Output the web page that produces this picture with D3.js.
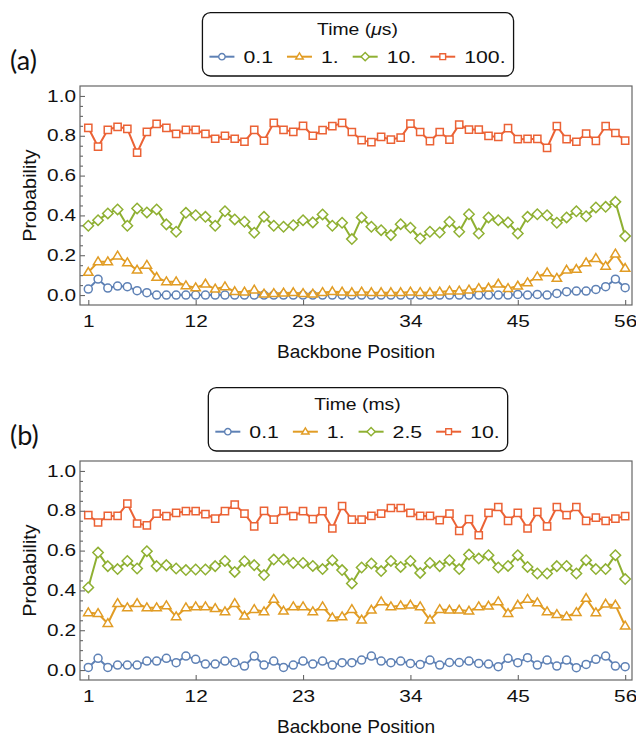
<!DOCTYPE html>
<html>
<head>
<meta charset="utf-8">
<script src="https://cdn.jsdelivr.net/npm/d3@7"></script>
<style>
  body { margin: 0; background: #fff; }
  svg { display: block; }
</style>
</head>
<body>
<svg id="chart" width="636" height="736"></svg>
<script>
// backbone positions 1..56
const positions = [1,2,3,4,5,6,7,8,9,10,11,12,13,14,15,16,17,18,19,20,21,22,23,24,25,26,27,28,
  29,30,31,32,33,34,35,36,37,38,39,40,41,42,43,44,45,46,47,48,49,50,51,52,53,54,55,56];
const xTicks = [1, 12, 23, 34, 45, 56];
const yMajor = [0, 0.2, 0.4, 0.6, 0.8, 1.0];
const yMinor = [0.05,0.1,0.15,0.25,0.3,0.35,0.45,0.5,0.55,0.65,0.7,0.75,0.85,0.9,0.95];

// panel (a), time in microseconds
const aLabels = ["0.1", "1.", "10.", "100."];
const aBlue = [0.03,0.08,0.035,0.045,0.042,0.022,0.012,0.0,
  0.0,0.0,0.0,0.0,0.0,0.0,0.0,0.0,0.0,0.0,
  0.0,0.0,0.0,0.0,0.0,0.0,0.0,0.0,0.0,0.0,
  0.0,0.0,0.0,0.0,0.0,0.0,0.0,0.0,0.0,0.0,
  0.0,0.0,0.0,0.0,0.0,0.0,0.003,0.0,0.003,0.0,
  0.008,0.017,0.02,0.02,0.028,0.042,0.08,0.037];
const aOrange = [0.114,0.167,0.167,0.196,0.162,0.125,0.15,0.089,0.067,0.067,0.047,0.037,0.055,0.03,0.042,
  0.017,0.015,0.025,0.005,0.008,0.01,0.012,0.008,0.005,
  0.013,0.017,0.015,0.012,0.015,0.012,0.012,0.012,0.012,0.015,0.013,0.012,0.015,0.02,0.02,0.025,
  0.033,0.035,0.055,0.033,0.045,0.062,0.092,0.112,0.084,0.125,0.129,0.162,0.184,0.145,0.206,0.134];
const aGreen = [0.348,0.376,0.41,0.43,0.348,0.435,0.415,0.43,0.355,0.318,0.413,0.401,0.393,0.348,0.421,
  0.38,0.368,0.313,0.393,0.348,0.343,0.351,0.376,0.365,
  0.405,0.348,0.363,0.281,0.39,0.343,0.326,0.301,0.356,0.338,0.284,0.318,0.314,0.368,0.318,0.406,
  0.309,0.39,0.376,0.365,0.309,0.393,0.406,0.401,0.363,0.39,0.421,0.396,0.44,0.443,0.468,0.296];
const aRed = [0.84,0.745,0.83,0.845,0.835,0.715,0.82,0.86,0.84,0.81,0.83,0.83,0.81,0.785,0.80,
  0.785,0.77,0.83,0.775,0.865,0.83,0.82,0.85,0.80,
  0.828,0.848,0.865,0.819,0.778,0.768,0.794,0.781,0.791,0.861,0.819,0.773,0.819,0.781,0.856,0.831,
  0.831,0.799,0.794,0.838,0.783,0.784,0.784,0.739,0.848,0.783,0.77,0.811,0.774,0.848,0.814,0.776];

// panel (b), time in milliseconds
const bLabels = ["0.1", "1.", "2.5", "10."];
const bBlue = [0.013,0.059,0.013,0.025,0.025,0.025,0.045,0.045,0.059,0.037,0.07,0.054,0.03,0.03,0.045,
  0.038,0.02,0.07,0.025,0.045,0.013,0.025,0.045,0.03,
  0.045,0.025,0.037,0.037,0.05,0.07,0.045,0.037,0.045,0.033,0.028,0.05,0.025,0.038,0.038,0.045,
  0.033,0.03,0.017,0.059,0.037,0.062,0.025,0.05,0.02,0.05,0.012,0.028,0.054,0.07,0.02,0.017];
const bOrange = [0.288,0.284,0.234,0.334,0.313,0.334,0.313,0.313,0.323,0.268,0.313,0.318,0.318,0.309,0.293,
  0.334,0.271,0.304,0.293,0.355,0.296,0.318,0.318,0.293,
  0.318,0.263,0.268,0.304,0.251,0.301,0.343,0.318,0.323,0.326,0.318,0.251,0.304,0.301,0.301,0.296,
  0.318,0.321,0.343,0.284,0.326,0.356,0.338,0.293,0.279,0.268,0.289,0.36,0.288,0.331,0.326,0.221];
const bGreen = [0.415,0.59,0.522,0.507,0.548,0.51,0.597,0.522,0.527,0.51,0.502,0.505,0.505,0.522,0.548,
  0.493,0.547,0.527,0.477,0.555,0.555,0.538,0.538,0.523,
  0.507,0.552,0.502,0.435,0.515,0.535,0.497,0.548,0.518,0.548,0.488,0.538,0.522,0.552,0.507,0.58,
  0.56,0.577,0.515,0.523,0.577,0.518,0.485,0.485,0.522,0.523,0.485,0.552,0.507,0.507,0.577,0.457];
const bRed = [0.778,0.741,0.774,0.774,0.836,0.736,0.727,0.786,0.773,0.789,0.798,0.798,0.783,0.761,0.798,
  0.831,0.786,0.722,0.799,0.756,0.799,0.773,0.798,0.758,
  0.798,0.711,0.824,0.756,0.756,0.774,0.786,0.814,0.814,0.789,0.774,0.774,0.753,0.786,0.699,0.758,
  0.677,0.789,0.819,0.749,0.789,0.711,0.794,0.722,0.819,0.778,0.819,0.749,0.766,0.749,0.761,0.773];

const colors = ["#5e81b5", "#e19c24", "#8fb032", "#eb6235"];
const shapes = ["circle", "triangle", "diamond", "square"];
const font = "'Liberation Sans', Arial, sans-serif";
const numStretch = 1.3;   // the original's digits are drawn wide
const wordStretch = 1.12;

const svg = d3.select("#chart");

// small open marker paths
function markerPath(shape, s) {
  if (shape === "circle") return d3.symbol(d3.symbolCircle, 50 * s * s)();
  if (shape === "triangle") {
    const h = 7.8 * s, w = 9.4 * s;
    return `M0,${-h * 0.62}L${w / 2},${h * 0.38}L${-w / 2},${h * 0.38}Z`;
  }
  if (shape === "diamond") {
    const r = 5.2 * s;
    return `M0,${-r}L${r},0L0,${r}L${-r},0Z`;
  }
  const a = 3.6 * s;
  return `M${-a},${-a}H${a}V${a}H${-a}Z`;
}

// text placed at (x, y), squeezed/stretched horizontally by sx
function addText(parent, x, y, str, size, sx, anchor) {
  return parent.append("text")
    .attr("transform", `translate(${x},${y}) scale(${sx},1)`)
    .attr("text-anchor", anchor || "start")
    .style("font-family", font).style("font-size", size + "px")
    .attr("fill", "#111")
    .text(str);
}

function drawPanel(offsetY, tag, title, labels, series) {
  const top = 86 + offsetY, bottom = 305 + offsetY, left = 80, right = 632;

  const x = d3.scaleLinear().domain([0.15, 56.7]).range([left, right]);
  const y = d3.scaleLinear().domain([-0.05, 1.05]).range([bottom, top]);

  const g = svg.append("g");

  // series lines and markers
  series.forEach((vals, k) => {
    const line = d3.line()
      .x((d, i) => x(positions[i]))
      .y(d => y(d));
    g.append("path")
      .datum(vals)
      .attr("fill", "none")
      .attr("stroke", colors[k])
      .attr("stroke-width", 2)
      .attr("stroke-linejoin", "round")
      .attr("d", line);
    g.selectAll(".m" + k)
      .data(vals)
      .join("path")
      .attr("transform", (d, i) => `translate(${x(positions[i])},${y(d)})`)
      .attr("d", markerPath(shapes[k], 1))
      .attr("fill", "#fff")
      .attr("stroke", colors[k])
      .attr("stroke-width", 1.5);
  });

  // frame
  g.append("rect")
    .attr("x", left).attr("y", top)
    .attr("width", right - left).attr("height", bottom - top)
    .attr("fill", "none")
    .attr("stroke", "#666")
    .attr("stroke-width", 1.2);

  // axes with inward ticks
  const yAxis = d3.axisLeft(y).tickValues(yMajor).tickSize(-5).tickPadding(4)
    .tickFormat(d3.format(".1f"));
  const yAxisG = g.append("g").attr("transform", `translate(${left},0)`).call(yAxis);
  const yMinorG = g.append("g").attr("transform", `translate(${left},0)`)
    .call(d3.axisLeft(y).tickValues(yMinor).tickSize(-3).tickFormat(""));
  const xAxis = d3.axisBottom(x).tickValues(xTicks).tickSize(-5).tickPadding(10.5);
  const xAxisG = g.append("g").attr("transform", `translate(0,${bottom})`).call(xAxis);

  [yAxisG, yMinorG, xAxisG].forEach(a => {
    a.select(".domain").remove();
    a.selectAll("line").attr("stroke", "#666").attr("stroke-width", 1.1);
    a.selectAll("text").attr("fill", "#111")
      .style("font-family", font).style("font-size", "16px")
      .each(function () {
        const t = d3.select(this);
        t.attr("x", (+t.attr("x") || 0) / numStretch)
          .attr("transform", `scale(${numStretch},1)`);
      });
  });

  // axis titles
  const yTitle = g.append("g")
    .attr("transform", `translate(36,${(top + bottom) / 2}) rotate(-90)`);
  addText(yTitle, 0, 0, "Probability", 17.7, wordStretch, "middle");
  addText(g, (left + right) / 2, 358 + offsetY, "Backbone Position", 17.7, 1.08, "middle");

  // panel tag
  g.append("text")
    .attr("x", 10).attr("y", 70 + offsetY)
    .style("font-family", "Lato, 'Open Sans', sans-serif").style("font-size", "27px")
    .attr("fill", "#111")
    .text(tag);

  // legend
  const lg = g.append("g");
  const box = lg.append("rect")
    .attr("rx", 8).attr("ry", 8)
    .attr("fill", "#fff").attr("stroke", "#111").attr("stroke-width", 1.3);
  const tt = addText(lg, 357.5, 35 + offsetY, title[0], 17, 1.14, "middle");
  tt.append("tspan").style("font-style", "italic").text(title[1]);
  tt.append("tspan").text(title[2]);

  const rowY = 56.7 + offsetY;
  const items = lg.append("g");
  const gap = 14;
  let cx = 0;
  labels.forEach((lab, k) => {
    const it = items.append("g").attr("transform", `translate(${cx},0)`);
    it.append("line")
      .attr("x1", 0).attr("x2", 25).attr("y1", rowY).attr("y2", rowY)
      .attr("stroke", colors[k]).attr("stroke-width", 2);
    it.append("path")
      .attr("transform", `translate(12.5,${rowY})`)
      .attr("d", markerPath(shapes[k], 0.8))
      .attr("fill", "#fff").attr("stroke", colors[k]).attr("stroke-width", 1.4);
    const t = addText(it, 34, rowY + 6.2, lab, 17, 1.25);
    cx += 34 + t.node().getComputedTextLength() * 1.25 + gap;
  });
  const rowW = cx - gap;
  const rowX = 357.5 - rowW / 2;
  items.attr("transform", `translate(${rowX},0)`);
  box.attr("x", rowX - 7).attr("y", 12.7 + offsetY)
    .attr("width", rowW + 15).attr("height", 63.3);
}

drawPanel(0, "(a)", ["Time (", "\u03bc", "s)"], aLabels, [aBlue, aOrange, aGreen, aRed]);
drawPanel(375, "(b)", ["Time (", "", "ms)"], bLabels, [bBlue, bOrange, bGreen, bRed]);
</script>
</body>
</html>
